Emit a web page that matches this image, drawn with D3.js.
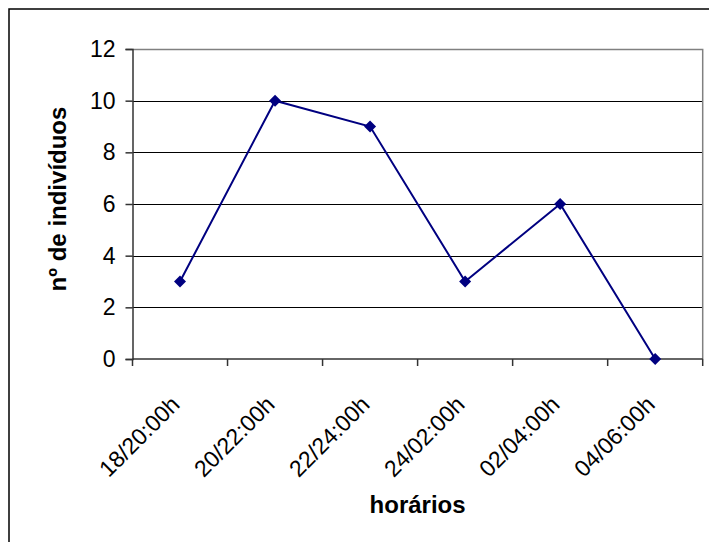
<!DOCTYPE html>
<html><head><meta charset="utf-8">
<script src="https://cdn.jsdelivr.net/npm/d3@7"></script>
<style>
html,body{margin:0;padding:0;background:#fff;}
text{font-family:"Liberation Sans",Arial,sans-serif;}
</style></head>
<body>
<svg id="chart" width="709" height="542"></svg>
<script>
const categories = ["18/20:00h","20/22:00h","22/24:00h","24/02:00h","02/04:00h","04/06:00h"];
const values = [3,10,9,3,6,0];
const yTicks = [0,2,4,6,8,10,12];
const xTitle = "horários";
const yTitle = "nº de indivíduos";

const svg = d3.select("#chart");
const L = 132.5, R = 702.7, T = 49, B = 359;

svg.append("rect").attr("x",9).attr("y",9).attr("width",720).attr("height",560)
  .attr("fill","#fff").attr("stroke","#000").attr("stroke-width",1.5);

const x = d3.scaleBand().domain(categories).range([L,R]).padding(0);
const y = d3.scaleLinear().domain([0,12]).range([B,T]);

// gridlines
svg.append("g").selectAll("line").data(yTicks.filter(v=>v>0&&v<12)).join("line")
  .attr("x1",L).attr("x2",R).attr("y1",d=>Math.round(y(d))+0.5).attr("y2",d=>Math.round(y(d))+0.5)
  .attr("stroke","#000").attr("stroke-width",1);

// plot border (top/right gray)
svg.append("path").attr("d",`M${L},${T+0.5}H${R}V${B}`).attr("fill","none")
  .attr("stroke","#808080").attr("stroke-width",1.5);

// y axis
const yAxis = d3.axisLeft(y).tickValues(yTicks).tickSize(7).tickPadding(10).tickFormat(d3.format("d"));
const gy = svg.append("g").attr("transform",`translate(${L},0)`).call(yAxis);
gy.select(".domain").attr("stroke","#333").attr("stroke-width",1.5);
gy.selectAll(".tick line").attr("stroke","#333").attr("stroke-width",1.5);
gy.selectAll(".tick text").attr("font-size",23).attr("fill","#000").attr("font-family","Liberation Sans, Arial, sans-serif");

// x axis
const xTickScale = d3.scaleLinear().domain([0,categories.length]).range([L,R]);
const gx = svg.append("g").attr("transform",`translate(0,${B})`);
gx.append("line").attr("x1",L).attr("x2",R).attr("y1",0).attr("y2",0).attr("stroke","#333").attr("stroke-width",1.5);
gx.selectAll("line.tk").data(d3.range(categories.length+1)).join("line").attr("class","tk")
  .attr("x1",d=>xTickScale(d)).attr("x2",d=>xTickScale(d)).attr("y1",0).attr("y2",7)
  .attr("stroke","#333").attr("stroke-width",1.5);
gx.selectAll("text").data(categories).join("text")
  .attr("transform",d=>`translate(${x(d)+x.bandwidth()/2+1},${47}) rotate(-45)`)
  .attr("text-anchor","end").attr("font-size",23).attr("fill","#000").text(d=>d);

// line
const line = d3.line().x((d,i)=>x(categories[i])+x.bandwidth()/2).y(d=>y(d));
svg.append("path").datum(values).attr("d",line).attr("fill","none")
  .attr("stroke","#000080").attr("stroke-width",2);
svg.append("g").selectAll("path").data(values).join("path")
  .attr("d",d3.symbol(d3.symbolSquare,72)())
  .attr("transform",(d,i)=>`translate(${x(categories[i])+x.bandwidth()/2},${y(d)}) rotate(45)`)
  .attr("fill","#000080");

// titles
svg.append("text").attr("x",(L+R)/2).attr("y",513).attr("text-anchor","middle")
  .attr("font-size",24).attr("font-weight","bold").text(xTitle);
svg.append("text").attr("transform",`translate(66,${(T+B)/2-5}) rotate(-90)`).attr("text-anchor","middle")
  .attr("font-size",24).attr("font-weight","bold").text(yTitle);
</script>
</body></html>
